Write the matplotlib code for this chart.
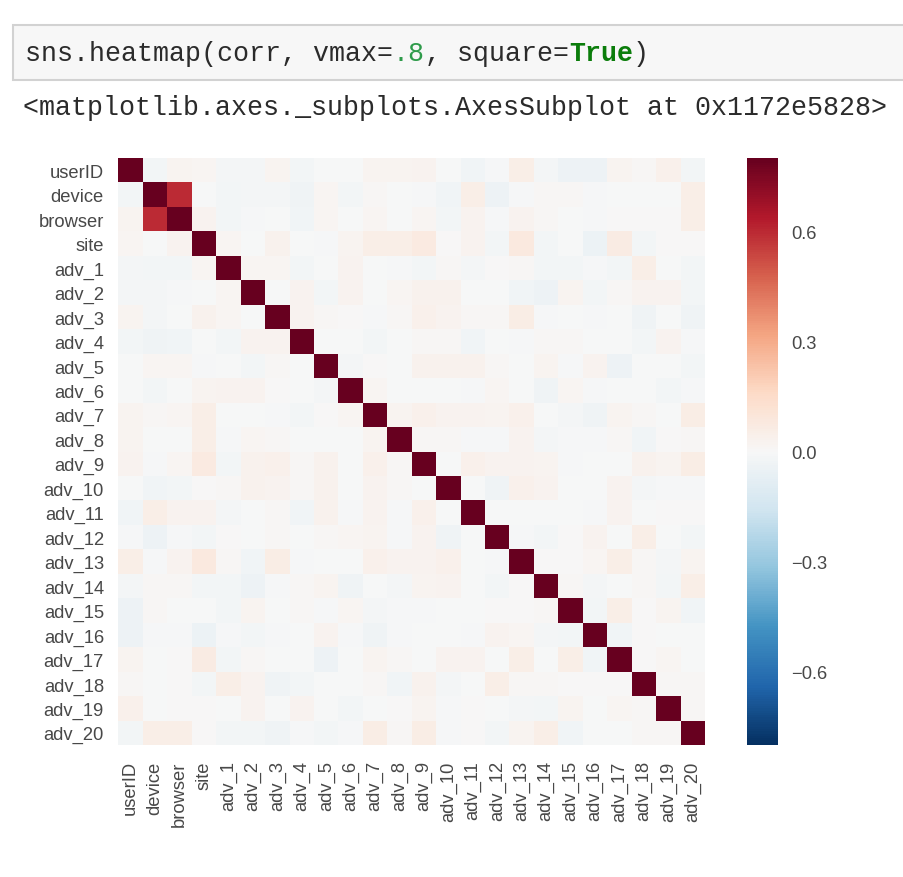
"""Correlation heatmap shown below a notebook code cell."""
import numpy as np
import matplotlib
matplotlib.use('Agg')
import matplotlib.pyplot as plt
from matplotlib.patches import Rectangle

plt.rcParams['font.family'] = ['Liberation Sans', 'DejaVu Sans']

W, H = 904, 878
MONO = 'Liberation Mono'
INK = '#484848'
LABEL_SIZE = 13.2

labels = ['userID', 'device', 'browser', 'site'] + [f'adv_{i}' for i in range(1, 21)]
cbar_ticks = [-0.6, -0.3, 0.0, 0.3, 0.6]

# upper triangle of the correlation matrix, in hundredths, right of the diagonal
r_userID = [-2, 2, 1.5, -1.5, -1.5, 2, -2, -.5, -.5, 2, 2, 2.5, -.5, -3, -1, 5, -1.5, -4, -4, 2, 1, 4, -2]
r_device = [60, -.5, -2, -1.5, -1.5, -3.5, 1.5, -2, 1, -.5, -1, -3, 5, -4, -1, 1, 1, -1, -.5, -.5, -.5, 5]
r_browser = [2.5, -2.5, -1, -.5, -3, 1.5, -.5, 1.5, -.5, 1.5, -2, 3, -1, 3, 1, -.5, -1, .5, .5, .5, 5]
r_site = [1.5, -.5, 3.5, -.5, -1, 2, 5, 5, 7, 0, 2.5, -2.5, 7.5, -2, -.2, -5, 6.5, -2.5, .5, 0]
r_adv1 = [1.5, 1.5, -2.5, -.5, 3, -.3, -1, -2, 1, -1.5, .3, 1, -2, -2, -1, -2.5, 5.5, -.5, -2.5]
r_adv2 = [-.5, 3, -2, 3, -.5, 1.5, 3.5, 3.5, -.5, -.5, -3, -4, 2, -2, 1, 2.5, 2.5, -2]
r_adv3 = [3, .7, .5, -1, 1, 4, 3, 1, 1, 6, -1, -.5, -1, -.3, -3.5, -.2, -3.5]
r_adv4 = [-.3, -.2, -2.5, -.5, 1, 1, -3, -.5, -1, 1, 1, -.5, -.2, -2, 3, -.7]
r_adv5 = [-1.5, 0, -.3, 3.5, 3.5, 3.5, .7, -.5, 2, -1, 3, -4, -.2, -.2, -2]
r_adv6 = [1.5, -.5, -.3, -.3, -.8, 1.5, -.5, -3.5, 1.5, -.7, -.2, -.2, -2, -1]
r_adv7 = [2, 4, 2.5, 2.5, 2, 4, -.5, -1.5, -3.5, 2, 1, -.3, 6]
r_adv8 = [.7, .7, -.7, -1, 3, -1.5, -.7, -.7, .7, -3, .5, .7]
r_adv9 = [-.3, 4, 3, 2.5, 2, -.7, -.5, -.5, 3.5, 2, 6]
r_adv10 = [-.3, -3.5, 4, 3, -.2, -.2, 2.5, -1.5, -1, -.7]
r_adv11 = [-.3, -.3, -.3, -.3, -1, 2.5, -.3, 0, .5]
r_adv12 = [-1, -2, .5, 3, -.2, 5, -.3, -2.5]
r_adv13 = [.5, .5, 1.5, 5.5, 1, -1.5, 2]
r_adv14 = [.7, -1.5, -.3, 1, -2, 5]
r_adv15 = [-2, 5, .3, 2, -3]
r_adv16 = [-3, .2, -.3, -.5]
r_adv17 = [.5, 1.5, -.5]
r_adv18 = [.7, .7]
r_adv19 = [.7]

upper_rows = [r_userID, r_device, r_browser, r_site, r_adv1, r_adv2, r_adv3, r_adv4,
              r_adv5, r_adv6, r_adv7, r_adv8, r_adv9, r_adv10, r_adv11, r_adv12,
              r_adv13, r_adv14, r_adv15, r_adv16, r_adv17, r_adv18, r_adv19]

n = len(labels)
corr = np.eye(n)
for i, row in enumerate(upper_rows):
    for j, val in enumerate(row):
        corr[i, i + 1 + j] = corr[i + 1 + j, i] = val / 100


def px_axes(fig, x0, y0, x1, y1):
    return fig.add_axes([x0 / W, 1 - y1 / H, (x1 - x0) / W, (y1 - y0) / H])


fig = plt.figure(figsize=(W / 100, H / 100), dpi=100)
fig.patch.set_facecolor('white')

# ── Notebook cell ─────────────────────────────────────────────────────────────
fig.add_artist(Rectangle((13 / W, 1 - 81 / H), (W + 20) / W, 55 / H, transform=fig.transFigure,
                         facecolor='#f7f7f7', edgecolor='#d2d2d2', linewidth=1.5))

CHAR = 16.0
pieces = [('sns.heatmap(corr, vmax=', '#2b2b2b', 'normal'), ('.8', '#2e9b4a', 'normal'),
          (', square=', '#2b2b2b', 'normal'), ('True', '#0b7d0b', 'bold'), (')', '#2b2b2b', 'normal')]
pos = 0
for txt, col, weight in pieces:
    fig.text((25 + pos * CHAR) / W, 1 - 54 / H, txt, family=MONO, fontsize=19.2, color=col,
             fontweight=weight, va='center', ha='left')
    pos += len(txt)
fig.text(23 / W, 1 - 108 / H, '<matplotlib.axes._subplots.AxesSubplot at 0x1172e5828>',
         family=MONO, fontsize=19.2, color='#2b2b2b', va='center', ha='left')

# ── Heatmap ───────────────────────────────────────────────────────────────────
ax = px_axes(fig, 118.5, 159, 705, 746)
mesh = ax.pcolormesh(corr, cmap='RdBu_r', vmin=-0.8, vmax=0.8)
ax.invert_yaxis()
ax.set_xticks(np.arange(n) + 0.5)
ax.set_xticklabels(labels, rotation=90, fontsize=LABEL_SIZE, color=INK)
ax.set_yticks(np.arange(n) + 0.5)
ax.set_yticklabels(labels, fontsize=LABEL_SIZE, color=INK)
ax.tick_params(axis='x', length=0, pad=11)
ax.tick_params(axis='y', length=0, pad=10.5)
for s in ax.spines.values():
    s.set_visible(False)

# ── Colour bar ────────────────────────────────────────────────────────────────
cax = px_axes(fig, 747, 159, 778, 746)
cbar = fig.colorbar(mesh, cax=cax)
cbar.set_ticks(cbar_ticks)
cbar.set_ticklabels(['\u22120.6', '\u22120.3', '0.0', '0.3', '0.6'])
cbar.ax.tick_params(length=0, labelsize=LABEL_SIZE, labelcolor=INK, pad=9.5)
cbar.outline.set_visible(False)

plt.savefig('out.png', dpi=100, facecolor='white')
plt.close()
